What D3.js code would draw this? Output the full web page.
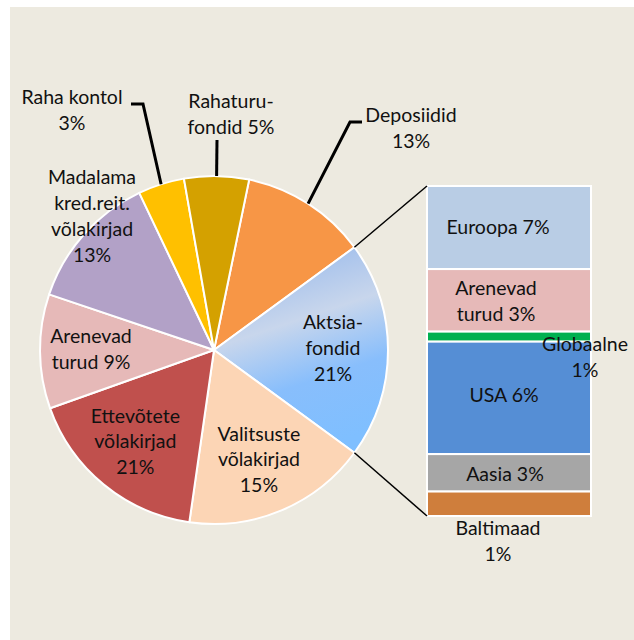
<!DOCTYPE html>
<html>
<head>
<meta charset="utf-8">
<script src="https://cdn.jsdelivr.net/npm/d3@7/dist/d3.min.js"></script>
<style>
  html, body { margin: 0; padding: 0; background: #ffffff; }
  svg { display: block; }
  text { font-family: Lato, "Open Sans", sans-serif; font-size: 19.5px; fill: #111; }
</style>
</head>
<body>
<svg id="chart" width="634" height="640"></svg>
<script>
// ---- data ----
const pieNames = ["Deposiidid", "Aktsiafondid", "Valitsuste võlakirjad", "Ettevõtete võlakirjad",
                  "Arenevad turud", "Madalama kred.reit. võlakirjad", "Raha kontol", "Rahaturufondid"];
const pieValues = [11.7, 20.1, 17.2, 17.3, 10.6, 12.75, 4.3, 6.0];
const pieLabels = [["Deposiidid", "13%"], ["Aktsia-", "fondid", "21%"], ["Valitsuste", "võlakirjad", "15%"],
                   ["Ettevõtete", "võlakirjad", "21%"], ["Arenevad", "turud 9%"],
                   ["Madalama", "kred.reit.", "võlakirjad", "13%"], ["Raha kontol", "3%"], ["Rahaturu-", "fondid 5%"]];
const pieColors = ["#F79646", "url(#aktsiaGrad)", "#FCD5B5", "#C0504D", "#E6B9B8", "#B2A1C7", "#FFC000", "#D4A100"];

const barNames = ["Euroopa", "Arenevad turud", "Globaalne", "USA", "Aasia", "Baltimaad"];
const barValues = [5.06, 3.81, 0.61, 6.85, 2.28, 1.49];
const barLabels = [["Euroopa 7%"], ["Arenevad", "turud 3%"], ["Globaalne", "1%"], ["USA 6%"], ["Aasia 3%"], ["Baltimaad", "1%"]];
const barColors = ["#B9CDE5", "#E6B9B8", "#00B050", "#558ED5", "#A6A6A6", "#CF7E3C"];

// ---- layout ----
const W = 634, H = 640;
const cx = 214, cy = 350, R = 174;
const splitIndex = 1; // Aktsiafondid is broken out into the bar
const LH = 25.8;      // line height of labels
const CAP = 6.8;      // half cap height

const svg = d3.select("#chart");
const defs = svg.append("defs");
const grad = defs.append("linearGradient").attr("id", "aktsiaGrad")
  .attr("gradientUnits", "userSpaceOnUse")
  .attr("x1", 60).attr("y1", -120).attr("x2", 130).attr("y2", 90);
grad.append("stop").attr("offset", 0).attr("stop-color", "#8DB3EC");
grad.append("stop").attr("offset", 0.42).attr("stop-color", "#C8D6EC");
grad.append("stop").attr("offset", 0.7).attr("stop-color", "#88BEFC");
grad.append("stop").attr("offset", 1).attr("stop-color", "#7FBFFF");

svg.append("rect").attr("x", 10).attr("y", 7).attr("width", W - 10).attr("height", H - 7)
  .attr("fill", "#EDEAE0");

// pie: the broken-out slice is centred on the right (90°)
const total = d3.sum(pieValues);
const before = d3.sum(pieValues.slice(0, splitIndex)) + pieValues[splitIndex] / 2;
const start = Math.PI / 2 - before / total * 2 * Math.PI;
const pie = d3.pie().sort(null).value(d => d).startAngle(start).endAngle(start + 2 * Math.PI);
const arcs = pie(pieValues);
const arc = d3.arc().innerRadius(0).outerRadius(R);

const g = svg.append("g").attr("transform", `translate(${cx},${cy})`);
g.selectAll("path.slice").data(arcs).join("path")
  .attr("class", "slice")
  .attr("d", arc)
  .attr("fill", (d, i) => pieColors[i])
  .attr("stroke", "#fff").attr("stroke-width", 2).attr("stroke-linejoin", "round");

const pt = (a, r) => [cx + r * Math.sin(a), cy - r * Math.cos(a)];

function block(x, y, lines, anchor) {
  const t = svg.append("text").attr("text-anchor", anchor || "middle");
  const y0 = y - (lines.length - 1) * LH / 2 + CAP;
  lines.forEach((s, k) => t.append("tspan").attr("x", x).attr("y", y0 + k * LH).text(s));
}

// pie labels
const insideR = 121;
const outsideLabels = { 0: { pos: [411, 128], elbow: [[362, 122], [350, 122]] },
                        5: { pos: [92, 216] },
                        6: { pos: [72, 110.5], elbow: [[131, 104], [143, 104]] },
                        7: { pos: [231, 114], elbow: [[217, 140]] } };
arcs.forEach((d, i) => {
  const mid = (d.startAngle + d.endAngle) / 2;
  const o = outsideLabels[i];
  if (o) {
    if (o.elbow) {
      const end = pt(mid, R);
      svg.append("path").attr("d", d3.line()([...o.elbow, end]))
        .attr("fill", "none").attr("stroke", "#000").attr("stroke-width", 3);
    }
    block(o.pos[0], o.pos[1], pieLabels[i]);
  } else {
    const [x, y] = pt(mid, insideR);
    block(x - 2, y - 2, pieLabels[i]);
  }
});

// bar of broken-out slice
const barX0 = 427, barX1 = 591;
const y = d3.scaleLinear().domain([0, d3.sum(barValues)]).range([186, 516]);
const cum = d3.cumsum([0, ...barValues]);
svg.selectAll("rect.seg").data(barValues).join("rect")
  .attr("class", "seg")
  .attr("x", barX0).attr("width", barX1 - barX0)
  .attr("y", (d, i) => y(cum[i])).attr("height", (d, i) => y(cum[i + 1]) - y(cum[i]))
  .attr("fill", (d, i) => barColors[i])
  .attr("stroke", "#fff").attr("stroke-width", 2);

// connector lines
const s = arcs[splitIndex];
const p1 = pt(s.startAngle, R), p2 = pt(s.endAngle, R);
svg.append("line").attr("x1", p1[0]).attr("y1", p1[1]).attr("x2", barX0).attr("y2", y(0))
  .attr("stroke", "#000").attr("stroke-width", 1.5);
svg.append("line").attr("x1", p2[0]).attr("y1", p2[1]).attr("x2", barX0).attr("y2", y(d3.sum(barValues)))
  .attr("stroke", "#000").attr("stroke-width", 1.5);

// bar labels
const barMid = (barX0 + barX1) / 2;
const barLabelShift = [[-11, 0], [-13, 1], [76, 20.5], [-5, -3], [-4, 1], [-11, 0]];
barValues.forEach((v, i) => {
  let yc = (y(cum[i]) + y(cum[i + 1])) / 2;
  if (i === barValues.length - 1) yc = y(cum[i + 1]) + 25;
  block(barMid + barLabelShift[i][0], yc + barLabelShift[i][1], barLabels[i]);
});
</script>
</body>
</html>
